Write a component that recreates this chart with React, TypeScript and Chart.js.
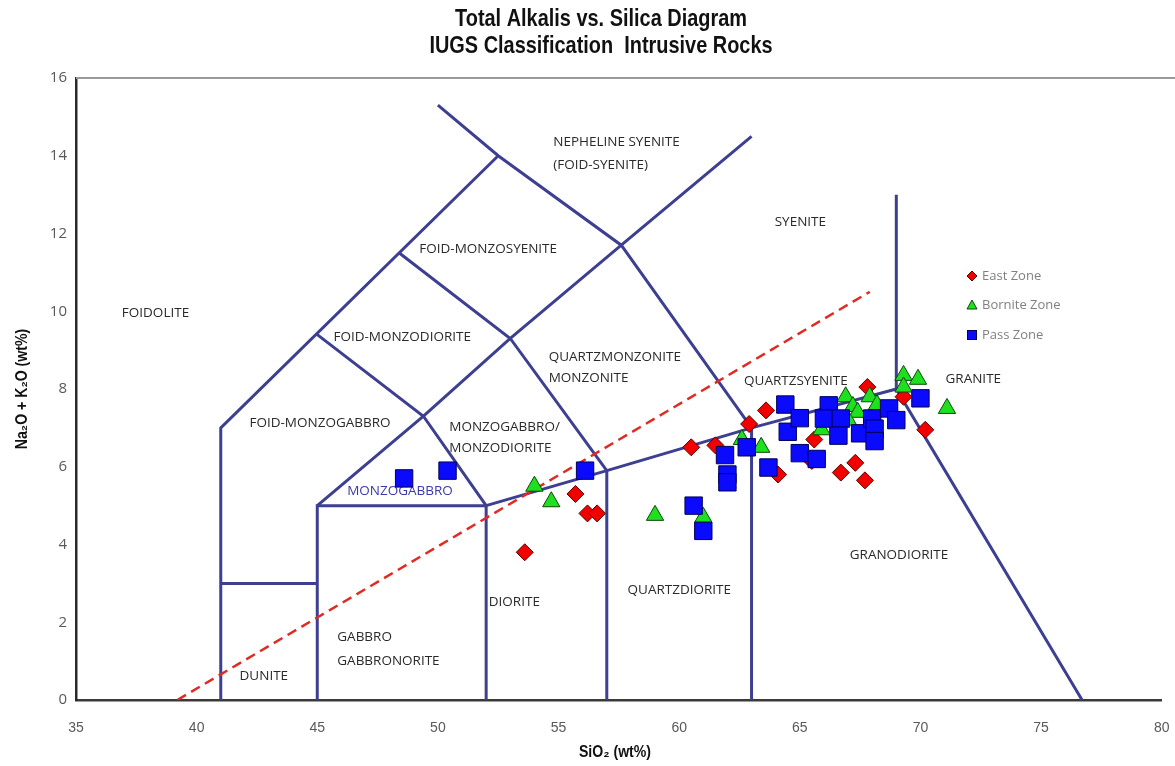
import React, { useEffect, useRef } from "react";
import { Chart, registerables } from "chart.js";

Chart.register(...registerables);

// ---------------- Data ----------------
// Axes
const xMin = 35;
const xMax = 80;
const xStep = 5;
const yMin = 0;
const yMax = 16;
const yStep = 2;

// East Zone (red diamonds)
const eastSiO2 = [53.6, 55.7, 56.2, 56.6, 60.5, 61.5, 62.9, 63.6, 64.1, 65.6, 65.5, 66.7, 67.3, 67.7, 67.8, 69.3, 70.2];
const eastAlk = [3.8, 5.3, 4.8, 4.8, 6.5, 6.55, 7.1, 7.45, 5.8, 6.7, 6.15, 5.85, 6.1, 5.65, 8.05, 7.8, 6.95];

// Bornite Zone (green triangles)
const borniteSiO2 = [54.0, 54.7, 59.0, 61.0, 62.0, 62.6, 63.4, 65.9, 66.9, 67.2, 67.4, 67.9, 68.2, 69.3, 69.3, 69.9, 71.1, 67.0];
const borniteAlk = [5.5, 5.1, 4.75, 4.7, 5.6, 6.7, 6.5, 6.95, 7.8, 7.55, 7.4, 7.8, 7.6, 8.35, 8.05, 8.25, 7.5, 7.2];

// Pass Zone (blue squares)
const passSiO2 = [48.6, 50.4, 56.1, 60.6, 61.0, 61.9, 62.0, 62.0, 62.8, 63.7, 64.4, 64.5, 65.0, 65.0, 65.7, 66.2, 66.0, 66.7, 66.6, 67.5, 68.0, 68.1, 68.1, 68.7, 69.0, 70.0];
const passAlk = [5.7, 5.9, 5.9, 5.0, 4.35, 6.3, 5.8, 5.6, 6.5, 5.98, 7.6, 6.9, 7.25, 6.35, 6.2, 7.58, 7.24, 7.24, 6.8, 6.86, 7.24, 6.98, 6.66, 7.5, 7.2, 7.76];

// Classification boundaries (Middlemost plutonic TAS)
const bndFoidSiO2 = [41, 41, 52.5];
const bndFoidAlk = [0, 7, 14];
const bndDuniteSiO2 = [41, 45];
const bndDuniteAlk = [3, 3];
const bndGabbroSiO2 = [45, 45, 52, 52];
const bndGabbroAlk = [0, 5, 5, 0];
const bndMonzoSiO2 = [45, 49.4, 53, 57.6, 63];
const bndMonzoAlk = [5, 7.3, 9.3, 11.7, 14.5];
const bndFoidGabbroSiO2 = [45, 49.4, 52];
const bndFoidGabbroAlk = [9.4, 7.3, 5];
const bndFoidDioriteSiO2 = [48.4, 53, 57];
const bndFoidDioriteAlk = [11.5, 9.3, 5.9];
const bndSyeniteSiO2 = [50, 52.5, 57.6, 63];
const bndSyeniteAlk = [15.3, 14, 11.7, 7];
const bndQuartzSiO2 = [52, 57, 63, 69];
const bndQuartzAlk = [5, 5.9, 7, 8];
const bndDioriteSiO2 = [57, 57];
const bndDioriteAlk = [0, 5.9];
const bndQDioriteSiO2 = [63, 63];
const bndQDioriteAlk = [0, 7];
const bndGraniteSiO2 = [69, 69, 76.7];
const bndGraniteAlk = [13, 8, 0];

// Alkaline / subalkaline divide (dashed)
const alkDivideSiO2 = [39.2, 67.9];
const alkDivideAlk = [0, 10.5];

// Field names
const fieldNames = [
  "NEPHELINE SYENITE", "(FOID-SYENITE)", "SYENITE", "FOID-MONZOSYENITE", "FOIDOLITE",
  "FOID-MONZODIORITE", "QUARTZMONZONITE", "MONZONITE", "QUARTZSYENITE", "GRANITE",
  "FOID-MONZOGABBRO", "MONZOGABBRO/", "MONZODIORITE", "MONZOGABBRO", "GRANODIORITE",
  "DIORITE", "QUARTZDIORITE", "GABBRO", "GABBRONORITE", "DUNITE",
];
const fieldSiO2 = [54.78, 54.78, 63.96, 49.23, 36.9, 45.67, 54.59, 54.59, 62.69, 71.04, 42.19, 50.47, 50.47, 46.24, 67.07, 52.11, 57.86, 45.83, 45.83, 41.78];
const fieldAlk = [14.35, 13.77, 12.3, 11.6, 9.95, 9.34, 8.81, 8.27, 8.2, 8.25, 7.13, 7.03, 6.47, 5.38, 3.72, 2.52, 2.83, 1.62, 1.0, 0.62];

const seriesNames = ["East Zone", "Bornite Zone", "Pass Zone"];
const titleLines = ["Total Alkalis vs. Silica Diagram", "IUGS Classification  Intrusive Rocks"];
const xTitle = "SiO\u2082 (wt%)";
const yTitle = "Na\u2082O + K\u2082O (wt%)";

// ---------------- Styles ----------------
const lineColor = "#3d3f91";
const redFill = "#f20000";
const redEdge = "#5a0000";
const greenFill = "#1ee01e";
const greenEdge = "#0a4a0a";
const blueFill = "#0a0aff";
const blueEdge = "#000055";
const labelFont = '"Open Sans", "Liberation Sans", sans-serif';
const boldNarrow = '"Liberation Sans", Arial, "DejaVu Sans", sans-serif';

const pts = (xs: number[], ys: number[]) => xs.map((x, i) => ({ x, y: ys[i] }));

const boundaries: Array<[number[], number[]]> = [
  [bndFoidSiO2, bndFoidAlk],
  [bndDuniteSiO2, bndDuniteAlk],
  [bndGabbroSiO2, bndGabbroAlk],
  [bndMonzoSiO2, bndMonzoAlk],
  [bndFoidGabbroSiO2, bndFoidGabbroAlk],
  [bndFoidDioriteSiO2, bndFoidDioriteAlk],
  [bndSyeniteSiO2, bndSyeniteAlk],
  [bndQuartzSiO2, bndQuartzAlk],
  [bndDioriteSiO2, bndDioriteAlk],
  [bndQDioriteSiO2, bndQDioriteAlk],
  [bndGraniteSiO2, bndGraniteAlk],
];

function drawNarrowText(ctx: CanvasRenderingContext2D, text: string, x: number, y: number, scaleX: number, rotate = 0) {
  ctx.save();
  ctx.translate(x, y);
  if (rotate) ctx.rotate(rotate);
  ctx.scale(scaleX, 1);
  ctx.fillText(text, 0, 0);
  ctx.restore();
}

const decorPlugin = {
  id: "decor",
  beforeDatasetsDraw(chart: any) {
    const { ctx, scales } = chart;
    const xs = scales.x;
    const ys = scales.y;
    ctx.save();
    ctx.font = `13.5px ${labelFont}`;
    ctx.textAlign = "left";
    ctx.textBaseline = "middle";
    fieldNames.forEach((name, i) => {
      ctx.fillStyle = name === "MONZOGABBRO" ? "#3a3aaa" : "#2a2a2a";
      ctx.fillText(name, xs.getPixelForValue(fieldSiO2[i]), ys.getPixelForValue(fieldAlk[i]));
    });
    ctx.restore();
  },
  afterDraw(chart: any) {
    const { ctx, chartArea } = chart;
    ctx.save();
    // top frame line
    ctx.strokeStyle = "#9a9a9a";
    ctx.lineWidth = 2;
    ctx.beginPath();
    ctx.moveTo(chartArea.left, chartArea.top);
    ctx.lineTo(chart.width, chartArea.top);
    ctx.stroke();

    // titles
    ctx.fillStyle = "#111";
    ctx.textAlign = "center";
    ctx.textBaseline = "middle";
    ctx.font = `bold 24px ${boldNarrow}`;
    drawNarrowText(ctx, titleLines[0], 601, 19, 0.83);
    drawNarrowText(ctx, titleLines[1], 601, 46, 0.83);

    // axis titles
    ctx.font = `bold 17px ${boldNarrow}`;
    drawNarrowText(ctx, xTitle, 615, 752, 0.83);
    drawNarrowText(ctx, yTitle, 22, 389, 0.83, -Math.PI / 2);

    // legend
    const lx = 972;
    const tx = 982;
    const rows = [276, 305, 335];
    ctx.lineWidth = 1;
    // diamond
    ctx.fillStyle = redFill;
    ctx.strokeStyle = redEdge;
    ctx.beginPath();
    ctx.moveTo(lx, rows[0] - 5);
    ctx.lineTo(lx + 5, rows[0]);
    ctx.lineTo(lx, rows[0] + 5);
    ctx.lineTo(lx - 5, rows[0]);
    ctx.closePath();
    ctx.fill();
    ctx.stroke();
    // triangle
    ctx.fillStyle = greenFill;
    ctx.strokeStyle = greenEdge;
    ctx.beginPath();
    ctx.moveTo(lx, rows[1] - 5);
    ctx.lineTo(lx + 5, rows[1] + 4);
    ctx.lineTo(lx - 5, rows[1] + 4);
    ctx.closePath();
    ctx.fill();
    ctx.stroke();
    // square
    ctx.fillStyle = blueFill;
    ctx.strokeStyle = blueEdge;
    ctx.fillRect(lx - 4.5, rows[2] - 4.5, 9, 9);
    ctx.strokeRect(lx - 4.5, rows[2] - 4.5, 9, 9);

    ctx.fillStyle = "#808080";
    ctx.font = `13px ${labelFont}`;
    ctx.textAlign = "left";
    ctx.textBaseline = "middle";
    seriesNames.forEach((n, i) => ctx.fillText(n, tx, rows[i]));
    ctx.restore();
  },
};

export default function App() {
  const ref = useRef<HTMLCanvasElement>(null);

  useEffect(() => {
    const canvas = ref.current;
    if (!canvas) return;

    const boundaryDatasets = boundaries.map(([bx, by]) => ({
      type: "scatter" as const,
      data: pts(bx, by),
      showLine: true,
      borderColor: lineColor,
      borderWidth: 3,
      pointRadius: 0,
      fill: false,
      order: 10,
    }));

    const chart = new Chart(canvas, {
      type: "scatter",
      data: {
        datasets: [
          {
            label: seriesNames[2],
            data: pts(passSiO2, passAlk),
            pointStyle: "rect",
            pointRadius: 12.3,
            backgroundColor: blueFill,
            borderColor: blueEdge,
            borderWidth: 1,
            order: 1,
          },
          {
            label: seriesNames[1],
            data: pts(borniteSiO2, borniteAlk),
            pointStyle: "triangle",
            pointRadius: 10,
            backgroundColor: greenFill,
            borderColor: greenEdge,
            borderWidth: 1,
            order: 2,
          },
          {
            label: seriesNames[0],
            data: pts(eastSiO2, eastAlk),
            pointStyle: "rectRot",
            pointRadius: 8.5,
            backgroundColor: redFill,
            borderColor: redEdge,
            borderWidth: 1,
            order: 3,
          },
          {
            data: pts(alkDivideSiO2, alkDivideAlk),
            showLine: true,
            borderColor: "#e02a22",
            borderWidth: 2.5,
            borderDash: [10, 6],
            pointRadius: 0,
            fill: false,
            order: 9,
          },
          ...boundaryDatasets,
        ] as any,
      },
      options: {
        responsive: false,
        animation: false,
        devicePixelRatio: 1,
        events: [],
        layout: { padding: { left: 0, right: 13, top: 78, bottom: 0 } },
        plugins: {
          legend: { display: false },
          tooltip: { enabled: false },
          title: { display: false },
        },
        scales: {
          x: {
            type: "linear",
            min: xMin,
            max: xMax,
            afterFit: (s: any) => {
              s.height = 66;
              s.paddingLeft = 0;
              s.paddingRight = 0;
            },
            grid: { display: false, drawTicks: false },
            border: { display: true, color: "#3a3a3a", width: 2.5 },
            ticks: {
              stepSize: xStep,
              autoSkip: false,
              maxRotation: 0,
              padding: 20,
              color: "#595959",
              font: { family: '"Liberation Sans Narrow", "Liberation Sans", sans-serif', size: 14 },
            },
          },
          y: {
            type: "linear",
            min: yMin,
            max: yMax,
            afterFit: (s: any) => {
              s.width = 76;
              s.paddingTop = 0;
              s.paddingBottom = 0;
            },
            grid: { display: false, drawTicks: false },
            border: { display: true, color: "#2a2a2a", width: 2.5 },
            ticks: {
              stepSize: yStep,
              padding: 9,
              color: "#595959",
              font: { family: labelFont, size: 15 },
            },
          },
        },
      } as any,
      plugins: [decorPlugin as any],
    });

    return () => chart.destroy();
  }, []);

  return (
    <div style={{ position: "absolute", left: 0, top: 0, width: 1175, height: 766, background: "#fff" }}>
      <canvas ref={ref} width={1175} height={766} style={{ display: "block", width: 1175, height: 766 }} />
    </div>
  );
}
